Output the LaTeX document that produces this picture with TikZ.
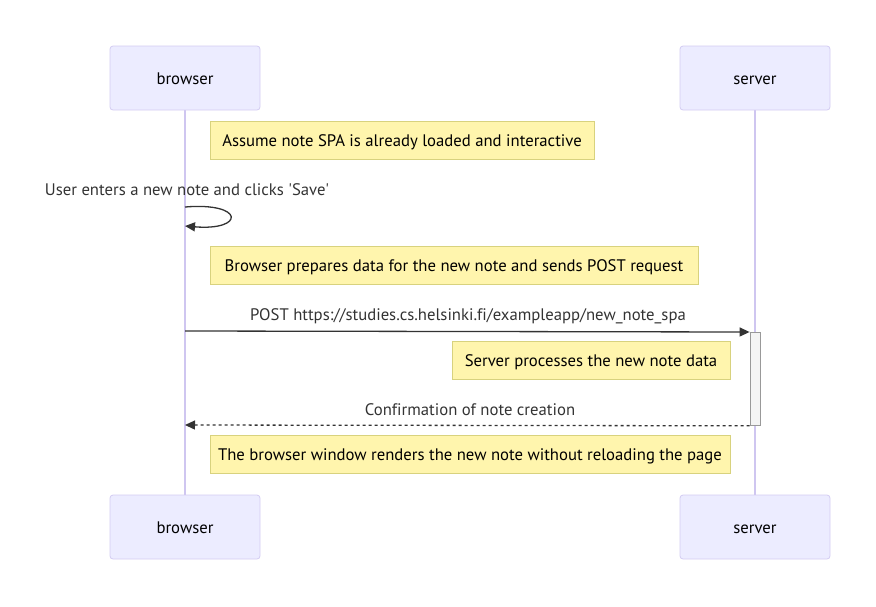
\documentclass[tikz,border=0pt]{standalone}
\usepackage{fontspec}
\setmainfont{PT Sans}[Ligatures={TeXOff,NoCommon}]
\usetikzlibrary{arrows.meta}
\definecolor{actfill}{HTML}{ECECFF}
\definecolor{actdraw}{HTML}{D3CCF2}
\definecolor{lifeline}{HTML}{CFC6F0}
\definecolor{notefill}{HTML}{FFF5AD}
\definecolor{notedraw}{HTML}{D8D27E}
\definecolor{msg}{HTML}{333333}
\definecolor{actvfill}{HTML}{F4F4F4}
\definecolor{actvdraw}{HTML}{999999}
\tikzset{
  txt/.style={font=\fontsize{16.7}{19}\selectfont, text height=12pt, text depth=0pt},
  actor/.style={txt, draw=actdraw, fill=actfill, rounded corners=3pt, minimum width=150pt, minimum height=64pt, line width=0.8pt, inner sep=0pt},
  notebox/.style={txt, draw=notedraw, fill=notefill, line width=0.8pt, minimum height=38pt, inner sep=0pt},
  lbl/.style={txt, text=msg, inner sep=0pt},
  life/.style={draw=lifeline, line width=1.3pt},
  msgline/.style={draw=msg, line width=1.3pt, -{Triangle[length=10pt,width=9pt]}},
}
\begin{document}
\begin{tikzpicture}[x=1pt,y=-1pt]
\useasboundingbox (0,0) rectangle (876,606);
% lifelines
\coordinate (bt) at (185,110);
\coordinate (bb) at (185,495);
\coordinate (st) at (755,110);
\coordinate (sb) at (755,495);
\draw[life] (bt) -- (bb);
\draw[life] (st) -- (sb);
% actors
\node[actor] (b1) at (185,78) {browser};
\node[actor] (s1) at (755,78) {server};
\node[actor] (b2) at (185,527) {browser};
\node[actor] (s2) at (755,527) {server};
% note 1
\node[notebox, minimum width=384pt] (n1) at (402,140) {Assume note SPA is already loaded and interactive};
% self loop
\node[lbl] (l1) at (187,189) {User enters a new note and clicks 'Save'};
\coordinate (sl1) at (185,207);
\coordinate (sl2) at (185,226);
\draw[msgline] (sl1) .. controls (245,202) and (245,231) .. (sl2);
% note 2
\node[notebox, minimum width=488pt] (n2) at (454,265) {Browser prepares data for the new note and sends POST request};
% POST message
\node[lbl] (l2) at (468,314) {POST https://studies.cs.helsinki.fi/exampleapp/new\_note\_spa};
\coordinate (p1) at (185,331);
\node[draw=actvdraw, fill=actvfill, line width=0.8pt, minimum width=10pt, minimum height=93pt, inner sep=0pt, anchor=north] (act) at (755,332) {};
\coordinate (p2) at (act.north west);
\draw[msgline] (p1) -- (p2);
% note 3
\node[notebox, minimum width=278pt] (n3) at (591,360.5) {Server processes the new note data};
% Confirmation
\node[lbl] (l3) at (470,409) {Confirmation of note creation};
\coordinate (c1) at (act.south west);
\coordinate (c2) at (185,425);
\draw[msgline, dashed, dash pattern=on 3pt off 3pt] (c1) -- (c2);
% note 4
\node[notebox, minimum width=520pt] (n4) at (470,454) {The browser window renders the new note without reloading the page};
\end{tikzpicture}
\end{document}
